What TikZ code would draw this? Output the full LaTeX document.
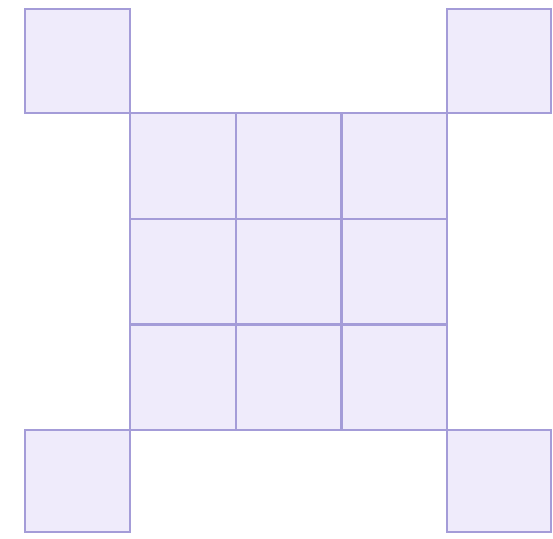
\documentclass[tikz,border=0pt]{standalone}
\begin{document}
\begin{tikzpicture}[x=0.5pt,y=-0.5pt,
  sq/.style={draw=lineP, fill=fillP, line width=1.2pt}]
\definecolor{lineP}{HTML}{A49CD8}
\definecolor{fillP}{HTML}{EFEBFB}
\useasboundingbox (0,0) rectangle (553,538);
% corner squares
\draw[sq] (25,9) rectangle (130,113);
\draw[sq] (447,9) rectangle (551,113);
\draw[sq] (25,430) rectangle (130,532);
\draw[sq] (447,430) rectangle (551,532);
% 3x3 grid
\foreach \i/\xa/\xb in {0/130/235.7,1/235.7/341.3,2/341.3/447}{
  \foreach \j/\ya/\yb in {0/113/218.7,1/218.7/324.3,2/324.3/430}{
    \draw[sq] (\xa,\ya) rectangle (\xb,\yb);
  }
}
\end{tikzpicture}
\end{document}
